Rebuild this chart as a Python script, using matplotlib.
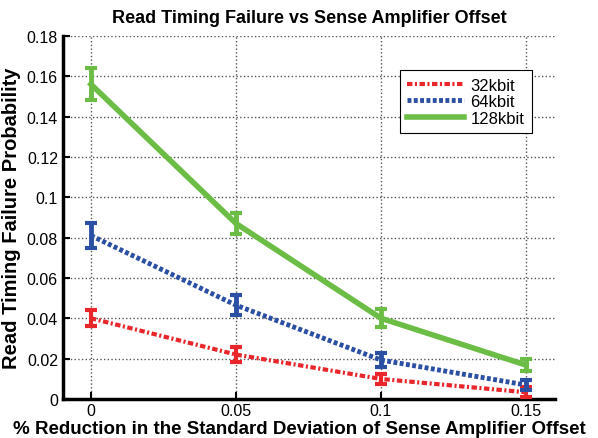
import numpy as np
import matplotlib
matplotlib.use('Agg')
import matplotlib.pyplot as plt

# data
x = [0, 0.05, 0.1, 0.15]
p32 = [0.040, 0.022, 0.0099, 0.0033]
e32 = [0.004, 0.0035, 0.0025, 0.0025]
p64 = [0.081, 0.0465, 0.0193, 0.0069]
e64 = [0.006, 0.005, 0.0035, 0.0027]
p128 = [0.156, 0.087, 0.040, 0.0168]
e128 = [0.008, 0.005, 0.0045, 0.003]
labels = ['32kbit', '64kbit', '128kbit']

plt.rcParams['font.family'] = ['Liberation Sans', 'DejaVu Sans']

fig = plt.figure(figsize=(5.98, 4.39), dpi=100)
ax = fig.add_axes([0.105, 0.089, 0.823, 0.827])

red = '#e8262b'
blue = '#2b4fa3'
green = '#6cbd45'

ax.errorbar(x, p32, yerr=e32, color=red, lw=3, ls=(0, (1.3, 0.6, 0.5, 0.6)),
            elinewidth=3, capsize=4, capthick=3, label=labels[0], zorder=3)
ax.errorbar(x, p64, yerr=e64, color=blue, lw=3.5, ls=(0, (0.8, 0.5)),
            elinewidth=3.5, capsize=4, capthick=3, label=labels[1], zorder=4)
ax.errorbar(x, p128, yerr=e128, color=green, lw=4, ls='-',
            elinewidth=3.5, capsize=4, capthick=3, label=labels[2], zorder=5)

ax.set_xlim(-0.0097, 0.16)
ax.set_ylim(0, 0.18)
ax.set_xticks(x)
ax.set_xticklabels(['0', '0.05', '0.1', '0.15'])
ax.set_yticks(np.arange(0, 0.181, 0.02))
ax.set_yticklabels(['0', '0.02', '0.04', '0.06', '0.08', '0.1', '0.12', '0.14', '0.16', '0.18'])

ax.grid(True, ls=':', color='#555555', lw=1)
ax.set_axisbelow(True)
for s in ['top', 'right']:
    ax.spines[s].set_visible(False)
for s in ['left', 'bottom']:
    ax.spines[s].set_linewidth(2.5)
    ax.spines[s].set_color('k')
ax.tick_params(direction='in', labelsize=11.5, width=1.5, length=5)
ax.tick_params(axis='x', pad=3)

ax.set_title('Read Timing Failure vs Sense Amplifier Offset', fontsize=13,
             fontweight='bold', pad=10)
fig.text(0.5, 0.002, '% Reduction in the Standard Deviation of Sense Amplifier Offset',
         fontsize=13.5, fontweight='bold', ha='center', va='bottom')
ax.set_ylabel('Read Timing Failure Probability', fontsize=14.5, fontweight='bold',
              labelpad=4)

handles, labs = ax.get_legend_handles_labels()
handles = [h[0] for h in handles]
leg = ax.legend(handles, labs, loc='upper right', bbox_to_anchor=(0.953, 0.906),
                fontsize=12, frameon=True, fancybox=False, framealpha=1,
                handlelength=3.4, borderaxespad=0, labelspacing=0.1,
                borderpad=0.45, handletextpad=0.4)
leg.get_frame().set_edgecolor('k')
leg.get_frame().set_linewidth(0.8)

fig.savefig('out.png', dpi=100)
